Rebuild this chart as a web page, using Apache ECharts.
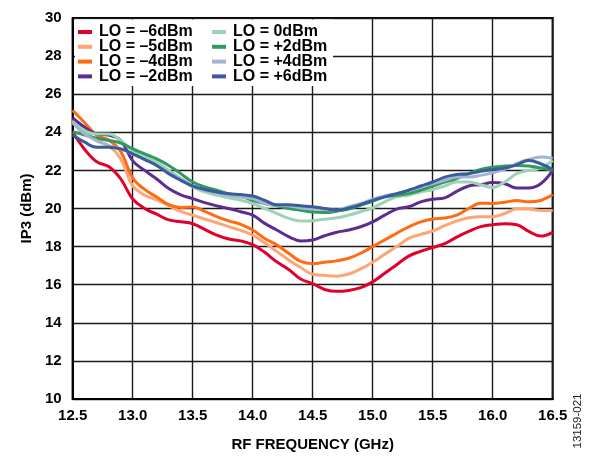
<!DOCTYPE html>
<html>
<head>
<meta charset="utf-8">
<script src="https://cdn.jsdelivr.net/npm/echarts@6/dist/echarts.min.js"></script>
<style>
  html, body { margin: 0; padding: 0; background: #fff; }
  #chart { width: 594px; height: 457px; }
</style>
</head>
<body>
<div id="chart"></div>
<script>
// RF frequency sweep (GHz)
const freqGHz = [12.5, 12.6, 12.7, 12.8, 12.9, 13.0, 13.1, 13.2, 13.3, 13.4,
                 13.5, 13.6, 13.7, 13.8, 13.9, 14.0, 14.1, 14.2, 14.3, 14.4,
                 14.5, 14.6, 14.7, 14.8, 14.9, 15.0, 15.1, 15.2, 15.3, 15.4,
                 15.5, 15.6, 15.7, 15.8, 15.9, 16.0, 16.1, 16.2, 16.3, 16.4, 16.5];

// IP3 (dBm) per LO drive level
const loM6 = [24.0, 23.1, 22.45, 22.2, 21.55, 20.5, 20.0, 19.7, 19.4, 19.3,
              19.2, 18.9, 18.6, 18.4, 18.3, 18.1, 17.7, 17.2, 16.8, 16.3,
              16.05, 15.75, 15.65, 15.7, 15.85, 16.15, 16.6, 17.05, 17.5, 17.75,
              17.95, 18.15, 18.5, 18.8, 19.05, 19.15, 19.2, 19.15, 18.8, 18.55, 18.75];
const loM5 = [24.65, 24.05, 23.55, 23.3, 22.6, 21.2, 20.7, 20.45, 20.15, 19.85,
              19.65, 19.45, 19.25, 19.05, 18.85, 18.6, 18.2, 17.75, 17.3, 16.9,
              16.55, 16.49, 16.45, 16.56, 16.83, 17.18, 17.6, 18.0, 18.43, 18.64,
              18.82, 19.1, 19.34, 19.51, 19.57, 19.57, 19.74, 19.97, 19.97, 19.9, 19.9];
const loM4 = [25.15, 24.5, 23.85, 23.6, 23.0, 21.6, 21.0, 20.6, 20.2, 20.05,
              20.08, 19.85, 19.57, 19.35, 19.17, 18.87, 18.43, 18.09, 17.65, 17.22,
              17.1, 17.18, 17.25, 17.39, 17.65, 18.0, 18.35, 18.7, 19.04, 19.3,
              19.45, 19.5, 19.65, 20.0, 20.28, 20.26, 20.33, 20.42, 20.35, 20.42, 20.73];
const loM2 = [24.75, 24.26, 23.91, 23.86, 23.57, 22.5, 22.0, 21.55, 21.05, 20.72,
              20.52, 20.31, 20.14, 20.0, 19.83, 19.65, 19.22, 18.87, 18.52, 18.3,
              18.35, 18.57, 18.75, 18.87, 19.04, 19.3, 19.65, 19.97, 20.09, 20.35,
              20.49, 20.56, 20.9, 21.18, 21.25, 21.36, 21.3, 21.08, 21.08, 21.3, 22.0];
const lo0 = [24.56, 24.09, 23.91, 23.91, 23.57, 23.04, 22.78, 22.43, 22.0, 21.57,
             21.13, 20.87, 20.7, 20.56, 20.43, 20.26, 20.0, 19.74, 19.48, 19.34,
             19.36, 19.44, 19.51, 19.65, 19.83, 20.03, 20.35, 20.61, 20.7, 20.87,
             21.0, 21.18, 21.39, 21.39, 21.25, 21.1, 21.39, 21.83, 22.0, 22.12, 22.52];
const loP2 = [24.03, 23.86, 23.69, 23.57, 23.44, 23.13, 22.87, 22.6, 22.26, 21.83,
              21.39, 21.13, 20.96, 20.78, 20.66, 20.43, 20.26, 20.14, 20.0, 19.91,
              19.81, 19.79, 19.86, 19.97, 20.17, 20.38, 20.61, 20.7, 20.78, 20.96,
              21.18, 21.39, 21.57, 21.83, 22.05, 22.17, 22.23, 22.26, 22.23, 22.12, 22.0];
const loP4 = [24.49, 23.91, 23.57, 23.3, 23.13, 22.87, 22.6, 22.26, 21.91, 21.57,
              21.18, 20.96, 20.82, 20.7, 20.6, 20.52, 20.26, 20.17, 20.14, 20.03,
              19.98, 19.95, 19.91, 20.09, 20.26, 20.49, 20.66, 20.78, 20.96, 21.13,
              21.3, 21.48, 21.65, 21.65, 21.74, 21.88, 22.05, 22.35, 22.57, 22.7, 22.64];
const loP6 = [23.86, 23.48, 23.22, 23.22, 23.13, 22.87, 22.57, 22.26, 21.83, 21.48,
              21.18, 21.0, 20.87, 20.78, 20.73, 20.66, 20.43, 20.2, 20.2, 20.14,
              20.09, 20.0, 19.91, 20.03, 20.2, 20.43, 20.61, 20.78, 20.96, 21.18,
              21.39, 21.65, 21.79, 21.83, 21.95, 22.05, 22.12, 22.3, 22.52, 22.35, 22.05];

const seriesNames = ['LO = –6dBm', 'LO = –5dBm', 'LO = –4dBm', 'LO = –2dBm',
                     'LO = 0dBm', 'LO = +2dBm', 'LO = +4dBm', 'LO = +6dBm'];
const seriesValues = [loM6, loM5, loM4, loM2, lo0, loP2, loP4, loP6];
const seriesColors = ['#e1002d', '#fda574', '#ff6b12', '#5c2d91',
                      '#9dd3b4', '#2e9a5c', '#a2b4d4', '#3a5c9c'];

const FONT = '"Liberation Sans", Arial, Helvetica, sans-serif';

const chart = echarts.init(document.getElementById('chart'), null, { renderer: 'canvas' });

const legendBase = {
  orient: 'vertical',
  top: 24,
  padding: 0,
  itemGap: -1.2,
  itemWidth: 14,
  itemHeight: 4,
  icon: 'rect',
  zlevel: 1,
  z: 5,
  textStyle: {
    fontFamily: FONT, fontSize: 16, fontWeight: 'bold', color: '#000',
    padding: [0, 0, 0, 2]
  }
};

chart.setOption({
  animation: false,
  backgroundColor: '#fff',
  grid: {
    left: 72.7, top: 18, right: 41.3, bottom: 55,
    show: true, borderColor: '#000', borderWidth: 2, backgroundColor: 'transparent'
  },
  legend: [
    Object.assign({}, legendBase, { left: 78, data: seriesNames.slice(0, 4) }),
    Object.assign({}, legendBase, { left: 212, data: seriesNames.slice(4) })
  ],
  graphic: [
    {
      // white panel behind the legend, hiding the grid lines there
      type: 'rect', zlevel: 1, z: 0,
      shape: { x: 75, y: 19.5, width: 258, height: 66.5 },
      style: { fill: '#fff' }
    },
    {
      type: 'text', x: 578, y: 421, rotation: Math.PI / 2,
      style: {
        text: '13159-021', fontFamily: FONT, fontSize: 11.5, fill: '#222',
        textAlign: 'center', textVerticalAlign: 'middle'
      }
    }
  ],
  xAxis: {
    type: 'value', min: 12.5, max: 16.5, interval: 0.5,
    name: 'RF FREQUENCY (GHz)', nameLocation: 'middle', nameGap: 38,
    nameTextStyle: { fontFamily: FONT, fontSize: 15, fontWeight: 'bold', color: '#000' },
    axisLine: { lineStyle: { color: '#000', width: 2 } },
    axisTick: { show: false },
    axisLabel: {
      margin: 9, fontFamily: FONT, fontSize: 15, fontWeight: 'bold', color: '#000',
      formatter: v => v.toFixed(1)
    },
    splitLine: { show: true, lineStyle: { color: '#1a1a1a', width: 1.4 } }
  },
  yAxis: {
    type: 'value', min: 10, max: 30, interval: 2,
    name: 'IP3 (dBm)', nameLocation: 'middle', nameGap: 37, nameRotate: 90,
    nameTextStyle: { fontFamily: FONT, fontSize: 15, fontWeight: 'bold', color: '#000' },
    axisLine: { show: true, lineStyle: { color: '#000', width: 2 } },
    axisTick: { show: false },
    axisLabel: { margin: 11, fontFamily: FONT, fontSize: 15, fontWeight: 'bold', color: '#000' },
    splitLine: { show: true, lineStyle: { color: '#1a1a1a', width: 1.4 } }
  },
  series: seriesNames.map((name, i) => ({
    name: name,
    type: 'line',
    smooth: 0.4,
    showSymbol: false,
    symbol: 'none',
    color: seriesColors[i],
    lineStyle: { width: 3, color: seriesColors[i] },
    data: freqGHz.map((f, k) => [f, seriesValues[i][k]])
  }))
});
</script>
</body>
</html>
